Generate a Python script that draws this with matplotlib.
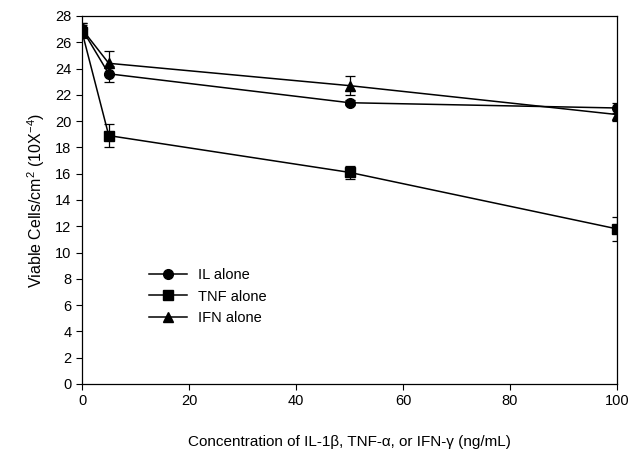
import matplotlib
matplotlib.use('Agg')
import matplotlib.pyplot as plt
from matplotlib.lines import Line2D
import numpy as np

plt.rcParams['font.family'] = ['Liberation Sans', 'DejaVu Sans']

# Concentration (ng/mL)
conc = [0, 5, 50, 100]

# Viable cells/cm2 (10X-4) and error bars
il_mean = [27.0, 23.6, 21.4, 21.0]
il_err = [0.5, 0.6, 0.2, 0.4]
tnf_mean = [26.8, 18.9, 16.1, 11.8]
tnf_err = [0.5, 0.9, 0.5, 0.9]
ifn_mean = [27.0, 24.4, 22.7, 20.5]
ifn_err = [0.5, 0.9, 0.7, 0.5]

labels = ['IL alone', 'TNF alone', 'IFN alone']
markers = ['o', 's', '^']

fig = plt.figure(figsize=(6.28, 4.49), dpi=100)
ax = fig.add_axes([0.1306, 0.1448, 0.852, 0.8196])

style = dict(color='black', linewidth=1.1, markersize=7, capsize=3.5,
             elinewidth=0.9, capthick=0.9)
for mean, err, m in zip([il_mean, tnf_mean, ifn_mean], [il_err, tnf_err, ifn_err], markers):
    ax.errorbar(conc, mean, yerr=err, marker=m, **style)

ax.set_xlim(0, 100)
ax.set_ylim(0, 28)
ax.set_xticks(np.arange(0, 101, 20))
ax.set_yticks(np.arange(0, 29, 2))
ax.tick_params(direction='out', length=4, width=0.8, labelsize=10.5)

ax.set_xlabel('Concentration of IL-1\u03b2, TNF-\u03b1, or IFN-\u03b3 (ng/mL)',
              fontsize=11, labelpad=19)
ax.set_ylabel(r'Viable Cells/cm$\mathregular{^2}$ (10X$\mathregular{^{-4}}$)',
              fontsize=11.5, labelpad=6)

for s in ax.spines.values():
    s.set_linewidth(0.9)

handles = [Line2D([], [], color='black', linewidth=1.1, marker=m, markersize=7)
           for m in markers]
ax.legend(handles, labels, loc='upper left', bbox_to_anchor=(0.1, 0.35), frameon=False,
          fontsize=10.5, handlelength=2.6, labelspacing=0.5)

plt.savefig('out.png', dpi=100)
